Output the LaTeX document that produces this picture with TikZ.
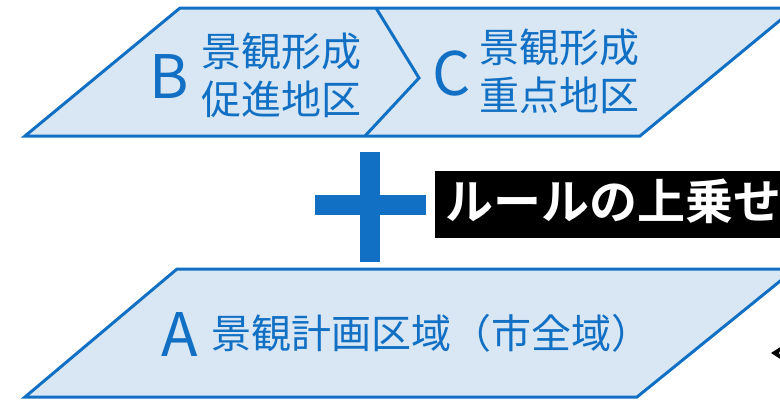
\documentclass[tikz,border=0pt]{standalone}
\usepackage{fontspec}
\setmainfont{Noto Sans CJK JP}
\newfontfamily\jpbold{Noto Sans CJK JP Bold}
\definecolor{kblue}{HTML}{1170C4}
\definecolor{kfill}{HTML}{D9E7F5}
\tikzset{
  panel/.style={draw=kblue, fill=kfill, line width=3pt, line join=miter},
  letter/.style={text=kblue, inner sep=0pt, font=\fontsize{60}{60}\selectfont},
  jptext/.style={text=kblue, inner sep=0pt, anchor=west, align=left, font=\fontsize{40}{48}\selectfont},
}
\begin{document}
\begin{tikzpicture}[x=1pt,y=-1pt]
\useasboundingbox (0,0) rectangle (780,405);
% top panel B / C
\draw[panel] (25,136) -- (180,8) -- (795,8) -- (640,136) -- cycle;
\draw[kblue, line width=3pt] (376,8) -- (419,78) -- (365,136);
\node[letter] (B) at (169,77) {B};
\node[jptext] (Btxt) at (201,75) {景観形成\\促進地区};
\node[letter] (C) at (452,74) {C};
\node[jptext] (Ctxt) at (479,71) {景観形成\\重点地区};
% plus sign
\fill[kblue] (360,152) rectangle (380,262);
\fill[kblue] (315,195) rectangle (426,215);
% black label
\node[fill=black, minimum height=67pt, minimum width=360pt, anchor=west, inner sep=0pt] (box) at (435,204.5) {};
\node[text=white, anchor=west, inner sep=0pt, font=\jpbold\fontsize{48}{48}\selectfont] (rule) at (445,201) {ルールの上乗せ};
% bottom panel A
\draw[panel] (25,397) -- (177,269) -- (795,269) -- (637,397) -- cycle;
\node[letter] (A) at (180,335) {A};
\node[jptext] (Atxt) at (211,333) {景観計画区域（市全域）};
% partial arrowhead at right edge
\fill[black] (771,353) -- (782,346) -- (779,353) -- (782,360) -- cycle;
\end{tikzpicture}
\end{document}
